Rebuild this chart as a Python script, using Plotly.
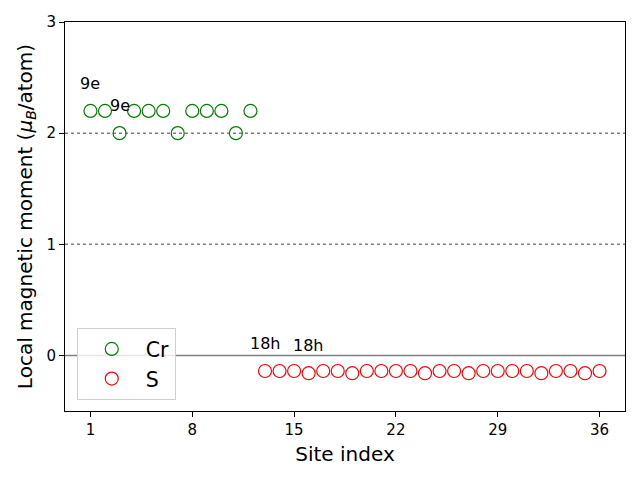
import plotly.graph_objects as go

cr_sites = [1, 2, 3, 4, 5, 6, 7, 8, 9, 10, 11, 12]
cr_moments = [2.2, 2.2, 2.0, 2.2, 2.2, 2.2, 2.0, 2.2, 2.2, 2.2, 2.0, 2.2]
s_sites = list(range(13, 37))
s_moments = [-0.14, -0.14, -0.14, -0.16, -0.14, -0.14, -0.16, -0.14, -0.14, -0.14,
             -0.14, -0.16, -0.14, -0.14, -0.16, -0.14, -0.14, -0.14, -0.14, -0.16,
             -0.14, -0.14, -0.16, -0.14]
labels = [(1, 2.2, "9e"), (3, 2.0, "9e"), (13, -0.14, "18h"), (16, -0.16, "18h")]
ref_lines = [(1, "dot"), (2, "dot")]
xticks = [1, 8, 15, 22, 29, 36]
yticks = [0, 1, 2, 3]

font = "DejaVu Sans"
fig = go.Figure()

for yv, dash in ref_lines:
    fig.add_shape(type="line", xref="paper", x0=0, x1=1, y0=yv, y1=yv,
                  line=dict(color="grey", width=1.5, dash=dash), layer="below")
fig.add_shape(type="line", xref="paper", x0=0, x1=1, y0=0, y1=0,
              line=dict(color="grey", width=1.5), layer="below")

fig.add_trace(go.Scatter(x=cr_sites, y=cr_moments, mode="markers", name="Cr",
                         marker=dict(symbol="circle-open", size=13, color="green",
                                     line=dict(width=1.2))))
fig.add_trace(go.Scatter(x=s_sites, y=s_moments, mode="markers", name="S",
                         marker=dict(symbol="circle-open", size=13, color="red",
                                     line=dict(width=1.2))))

for xs, yv, t in labels:
    fig.add_annotation(x=xs, y=yv + 0.2, text=t, showarrow=False,
                       xanchor="center", yanchor="bottom", yshift=-6,
                       font=dict(family=font, size=16, color="black"))

fig.update_layout(
    width=640, height=480,
    margin=dict(l=65, r=15, t=22, b=69),
    plot_bgcolor="white", paper_bgcolor="white",
    font=dict(family=font, color="black"),
    showlegend=True,
    legend=dict(x=0.021, y=0.028, xanchor="left", yanchor="bottom",
                bgcolor="rgba(255,255,255,0.8)", bordercolor="#d0d0d0", borderwidth=1,
                font=dict(family=font, size=20.5), itemwidth=58),
    xaxis=dict(range=[-0.75, 37.75], tickvals=xticks, ticks="outside", ticklen=5,
               tickcolor="black", showline=True, linecolor="black", linewidth=1,
               mirror=True, showgrid=False, zeroline=False,
               tickfont=dict(size=15),
               title=dict(text="Site index", font=dict(size=20), standoff=8)),
    yaxis=dict(range=[-0.5, 3], tickvals=yticks, ticks="outside", ticklen=5,
               tickcolor="black", showline=True, linecolor="black", linewidth=1,
               mirror=True, showgrid=False, zeroline=False,
               tickfont=dict(size=15),
               title=dict(text="Local magnetic moment (<i>μ</i><sub><i>B</i></sub>/atom)",
                          font=dict(size=20), standoff=8)),
)

fig.write_html("out.html")
